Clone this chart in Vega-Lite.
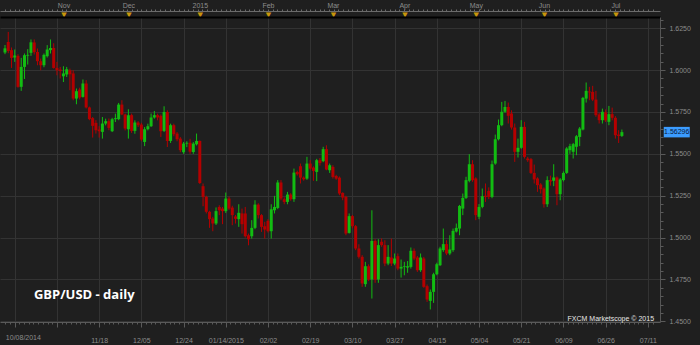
{
  "$schema": "https://vega.github.io/schema/vega-lite/v6.json",
  "width": 660,
  "height": 305,
  "autosize": "none",
  "padding": {"left": 0, "top": 17, "right": 40, "bottom": 23},
  "background": "#1f1f1f",
  "config": {
    "view": {"stroke": null},
    "axis": {"labelFont": "Liberation Sans", "labelFontSize": 7, "labelColor": "#8c8c8c", "domainColor": "#555555", "tickColor": "#555555", "gridColor": "#333333", "labelOverlap": false, "labelBound": false}
  },
  "datasets": {
    "candles": [
      {"t":0,"o":1.6105,"h":1.6150,"l":1.6095,"c":1.6130},
      {"t":1,"o":1.6168,"h":1.6228,"l":1.6101,"c":1.6114},
      {"t":2,"o":1.6119,"h":1.6135,"l":1.6013,"c":1.6073},
      {"t":3,"o":1.6075,"h":1.6123,"l":1.6049,"c":1.6087},
      {"t":4,"o":1.6085,"h":1.6095,"l":1.5895,"c":1.5900},
      {"t":5,"o":1.5900,"h":1.6073,"l":1.5876,"c":1.6019},
      {"t":6,"o":1.6019,"h":1.6099,"l":1.5947,"c":1.6089},
      {"t":7,"o":1.6086,"h":1.6125,"l":1.6033,"c":1.6091},
      {"t":8,"o":1.6103,"h":1.6183,"l":1.6085,"c":1.6166},
      {"t":9,"o":1.6165,"h":1.6183,"l":1.6093,"c":1.6107},
      {"t":10,"o":1.6108,"h":1.6129,"l":1.6029,"c":1.6053},
      {"t":11,"o":1.6053,"h":1.6069,"l":1.5999,"c":1.6029},
      {"t":12,"o":1.6029,"h":1.6099,"l":1.6017,"c":1.6091},
      {"t":13,"o":1.6083,"h":1.6149,"l":1.6075,"c":1.6123},
      {"t":14,"o":1.6119,"h":1.6183,"l":1.6099,"c":1.6132},
      {"t":15,"o":1.6132,"h":1.6160,"l":1.6009,"c":1.6013},
      {"t":16,"o":1.6013,"h":1.6049,"l":1.5969,"c":1.5999},
      {"t":17,"o":1.6003,"h":1.6019,"l":1.5950,"c":1.5995},
      {"t":18,"o":1.5963,"h":1.6023,"l":1.5929,"c":1.5980},
      {"t":19,"o":1.5974,"h":1.6019,"l":1.5959,"c":1.6005},
      {"t":20,"o":1.5999,"h":1.6009,"l":1.5880,"c":1.5975},
      {"t":21,"o":1.5980,"h":1.5999,"l":1.5820,"c":1.5830},
      {"t":22,"o":1.5830,"h":1.5890,"l":1.5796,"c":1.5874},
      {"t":23,"o":1.5884,"h":1.5895,"l":1.5825,"c":1.5836},
      {"t":24,"o":1.5840,"h":1.5944,"l":1.5836,"c":1.5920},
      {"t":25,"o":1.5920,"h":1.5940,"l":1.5771,"c":1.5777},
      {"t":26,"o":1.5777,"h":1.5782,"l":1.5701,"c":1.5707},
      {"t":27,"o":1.5713,"h":1.5720,"l":1.5597,"c":1.5667},
      {"t":28,"o":1.5685,"h":1.5701,"l":1.5621,"c":1.5641},
      {"t":29,"o":1.5645,"h":1.5665,"l":1.5597,"c":1.5635},
      {"t":30,"o":1.5631,"h":1.5720,"l":1.5591,"c":1.5681},
      {"t":31,"o":1.5681,"h":1.5710,"l":1.5670,"c":1.5695},
      {"t":32,"o":1.5695,"h":1.5711,"l":1.5641,"c":1.5655},
      {"t":33,"o":1.5635,"h":1.5715,"l":1.5630,"c":1.5707},
      {"t":34,"o":1.5707,"h":1.5740,"l":1.5690,"c":1.5713},
      {"t":35,"o":1.5707,"h":1.5804,"l":1.5701,"c":1.5794},
      {"t":36,"o":1.5794,"h":1.5820,"l":1.5731,"c":1.5735},
      {"t":37,"o":1.5735,"h":1.5740,"l":1.5640,"c":1.5651},
      {"t":38,"o":1.5647,"h":1.5766,"l":1.5591,"c":1.5731},
      {"t":39,"o":1.5731,"h":1.5740,"l":1.5625,"c":1.5637},
      {"t":40,"o":1.5637,"h":1.5700,"l":1.5620,"c":1.5687},
      {"t":41,"o":1.5687,"h":1.5695,"l":1.5660,"c":1.5671},
      {"t":42,"o":1.5675,"h":1.5685,"l":1.5575,"c":1.5585},
      {"t":43,"o":1.5571,"h":1.5660,"l":1.5546,"c":1.5647},
      {"t":44,"o":1.5647,"h":1.5680,"l":1.5640,"c":1.5665},
      {"t":45,"o":1.5665,"h":1.5741,"l":1.5660,"c":1.5717},
      {"t":46,"o":1.5717,"h":1.5756,"l":1.5710,"c":1.5731},
      {"t":47,"o":1.5731,"h":1.5740,"l":1.5700,"c":1.5717},
      {"t":48,"o":1.5727,"h":1.5735,"l":1.5601,"c":1.5635},
      {"t":49,"o":1.5637,"h":1.5784,"l":1.5630,"c":1.5750},
      {"t":50,"o":1.5750,"h":1.5760,"l":1.5541,"c":1.5577},
      {"t":51,"o":1.5577,"h":1.5680,"l":1.5565,"c":1.5671},
      {"t":52,"o":1.5671,"h":1.5680,"l":1.5605,"c":1.5617},
      {"t":53,"o":1.5621,"h":1.5630,"l":1.5575,"c":1.5587},
      {"t":54,"o":1.5591,"h":1.5600,"l":1.5510,"c":1.5522},
      {"t":55,"o":1.5510,"h":1.5571,"l":1.5500,"c":1.5561},
      {"t":56,"o":1.5561,"h":1.5575,"l":1.5540,"c":1.5566},
      {"t":57,"o":1.5566,"h":1.5590,"l":1.5500,"c":1.5513},
      {"t":58,"o":1.5511,"h":1.5570,"l":1.5500,"c":1.5561},
      {"t":59,"o":1.5557,"h":1.5621,"l":1.5550,"c":1.5577},
      {"t":60,"o":1.5577,"h":1.5580,"l":1.5320,"c":1.5326},
      {"t":61,"o":1.5307,"h":1.5323,"l":1.5187,"c":1.5243},
      {"t":62,"o":1.5243,"h":1.5250,"l":1.5144,"c":1.5154},
      {"t":63,"o":1.5154,"h":1.5160,"l":1.5058,"c":1.5110},
      {"t":64,"o":1.5114,"h":1.5124,"l":1.5038,"c":1.5084},
      {"t":65,"o":1.5084,"h":1.5180,"l":1.5075,"c":1.5158},
      {"t":66,"o":1.5183,"h":1.5193,"l":1.5134,"c":1.5163},
      {"t":67,"o":1.5173,"h":1.5183,"l":1.5080,"c":1.5158},
      {"t":68,"o":1.5158,"h":1.5269,"l":1.5147,"c":1.5233},
      {"t":69,"o":1.5233,"h":1.5245,"l":1.5165,"c":1.5173},
      {"t":70,"o":1.5179,"h":1.5190,"l":1.5074,"c":1.5134},
      {"t":71,"o":1.5126,"h":1.5135,"l":1.5084,"c":1.5112},
      {"t":72,"o":1.5110,"h":1.5199,"l":1.5064,"c":1.5148},
      {"t":73,"o":1.5144,"h":1.5173,"l":1.5024,"c":1.5080},
      {"t":74,"o":1.5144,"h":1.5183,"l":1.5000,"c":1.5008},
      {"t":75,"o":1.5014,"h":1.5024,"l":1.4954,"c":1.4990},
      {"t":76,"o":1.5008,"h":1.5104,"l":1.4994,"c":1.5058},
      {"t":77,"o":1.5058,"h":1.5223,"l":1.5050,"c":1.5197},
      {"t":78,"o":1.5197,"h":1.5205,"l":1.5114,"c":1.5134},
      {"t":79,"o":1.5134,"h":1.5140,"l":1.5034,"c":1.5064},
      {"t":80,"o":1.5068,"h":1.5094,"l":1.4994,"c":1.5048},
      {"t":81,"o":1.5100,"h":1.5110,"l":1.5030,"c":1.5038},
      {"t":82,"o":1.5038,"h":1.5199,"l":1.4994,"c":1.5169},
      {"t":83,"o":1.5163,"h":1.5249,"l":1.5144,"c":1.5183},
      {"t":84,"o":1.5177,"h":1.5343,"l":1.5170,"c":1.5329},
      {"t":85,"o":1.5329,"h":1.5343,"l":1.5223,"c":1.5233},
      {"t":86,"o":1.5229,"h":1.5240,"l":1.5199,"c":1.5213},
      {"t":87,"o":1.5213,"h":1.5273,"l":1.5199,"c":1.5257},
      {"t":88,"o":1.5257,"h":1.5265,"l":1.5220,"c":1.5229},
      {"t":89,"o":1.5229,"h":1.5412,"l":1.5213,"c":1.5388},
      {"t":90,"o":1.5392,"h":1.5400,"l":1.5370,"c":1.5378},
      {"t":91,"o":1.5426,"h":1.5442,"l":1.5323,"c":1.5358},
      {"t":92,"o":1.5358,"h":1.5365,"l":1.5340,"c":1.5348},
      {"t":93,"o":1.5352,"h":1.5482,"l":1.5345,"c":1.5442},
      {"t":94,"o":1.5442,"h":1.5462,"l":1.5405,"c":1.5412},
      {"t":95,"o":1.5418,"h":1.5425,"l":1.5339,"c":1.5398},
      {"t":96,"o":1.5392,"h":1.5470,"l":1.5337,"c":1.5462},
      {"t":97,"o":1.5462,"h":1.5475,"l":1.5430,"c":1.5445},
      {"t":98,"o":1.5456,"h":1.5542,"l":1.5450,"c":1.5528},
      {"t":99,"o":1.5528,"h":1.5551,"l":1.5402,"c":1.5406},
      {"t":100,"o":1.5402,"h":1.5442,"l":1.5386,"c":1.5432},
      {"t":101,"o":1.5422,"h":1.5432,"l":1.5352,"c":1.5362},
      {"t":102,"o":1.5368,"h":1.5375,"l":1.5345,"c":1.5352},
      {"t":103,"o":1.5358,"h":1.5365,"l":1.5253,"c":1.5263},
      {"t":104,"o":1.5267,"h":1.5270,"l":1.5223,"c":1.5239},
      {"t":105,"o":1.5243,"h":1.5250,"l":1.5014,"c":1.5024},
      {"t":106,"o":1.5028,"h":1.5144,"l":1.5024,"c":1.5128},
      {"t":107,"o":1.5128,"h":1.5135,"l":1.5055,"c":1.5068},
      {"t":108,"o":1.5068,"h":1.5075,"l":1.4925,"c":1.4935},
      {"t":109,"o":1.4935,"h":1.4960,"l":1.4875,"c":1.4885},
      {"t":110,"o":1.4885,"h":1.4895,"l":1.4706,"c":1.4726},
      {"t":111,"o":1.4722,"h":1.4855,"l":1.4706,"c":1.4829},
      {"t":112,"o":1.4829,"h":1.4840,"l":1.4740,"c":1.4750},
      {"t":113,"o":1.4750,"h":1.5163,"l":1.4636,"c":1.4980},
      {"t":114,"o":1.4980,"h":1.4990,"l":1.4730,"c":1.4750},
      {"t":115,"o":1.4750,"h":1.4990,"l":1.4730,"c":1.4955},
      {"t":116,"o":1.4975,"h":1.4995,"l":1.4945,"c":1.4955},
      {"t":117,"o":1.4955,"h":1.4984,"l":1.4829,"c":1.4845},
      {"t":118,"o":1.4845,"h":1.4955,"l":1.4835,"c":1.4885},
      {"t":119,"o":1.4881,"h":1.4994,"l":1.4830,"c":1.4845},
      {"t":120,"o":1.4845,"h":1.4905,"l":1.4835,"c":1.4875},
      {"t":121,"o":1.4889,"h":1.4905,"l":1.4805,"c":1.4815},
      {"t":122,"o":1.4815,"h":1.4869,"l":1.4761,"c":1.4825},
      {"t":123,"o":1.4825,"h":1.4855,"l":1.4775,"c":1.4829},
      {"t":124,"o":1.4821,"h":1.4860,"l":1.4790,"c":1.4829},
      {"t":125,"o":1.4825,"h":1.4941,"l":1.4815,"c":1.4921},
      {"t":126,"o":1.4921,"h":1.4935,"l":1.4865,"c":1.4875},
      {"t":127,"o":1.4881,"h":1.4890,"l":1.4795,"c":1.4805},
      {"t":128,"o":1.4805,"h":1.4905,"l":1.4795,"c":1.4881},
      {"t":129,"o":1.4875,"h":1.4885,"l":1.4700,"c":1.4706},
      {"t":130,"o":1.4710,"h":1.4720,"l":1.4616,"c":1.4630},
      {"t":131,"o":1.4622,"h":1.4690,"l":1.4571,"c":1.4676},
      {"t":132,"o":1.4676,"h":1.4790,"l":1.4610,"c":1.4781},
      {"t":133,"o":1.4781,"h":1.4850,"l":1.4775,"c":1.4841},
      {"t":134,"o":1.4835,"h":1.4945,"l":1.4830,"c":1.4935},
      {"t":135,"o":1.4925,"h":1.5054,"l":1.4915,"c":1.4961},
      {"t":136,"o":1.4961,"h":1.4984,"l":1.4895,"c":1.4905},
      {"t":137,"o":1.4905,"h":1.5014,"l":1.4895,"c":1.4929},
      {"t":138,"o":1.4925,"h":1.5054,"l":1.4915,"c":1.5040},
      {"t":139,"o":1.5036,"h":1.5084,"l":1.5030,"c":1.5058},
      {"t":140,"o":1.5054,"h":1.5195,"l":1.5014,"c":1.5189},
      {"t":141,"o":1.5173,"h":1.5263,"l":1.5134,"c":1.5237},
      {"t":142,"o":1.5237,"h":1.5363,"l":1.5230,"c":1.5343},
      {"t":143,"o":1.5339,"h":1.5498,"l":1.5330,"c":1.5438},
      {"t":144,"o":1.5438,"h":1.5462,"l":1.5333,"c":1.5343},
      {"t":145,"o":1.5353,"h":1.5360,"l":1.5104,"c":1.5134},
      {"t":146,"o":1.5124,"h":1.5200,"l":1.5110,"c":1.5183},
      {"t":147,"o":1.5183,"h":1.5293,"l":1.5175,"c":1.5247},
      {"t":148,"o":1.5250,"h":1.5323,"l":1.5213,"c":1.5243},
      {"t":149,"o":1.5279,"h":1.5300,"l":1.5230,"c":1.5243},
      {"t":150,"o":1.5243,"h":1.5460,"l":1.5235,"c":1.5438},
      {"t":151,"o":1.5442,"h":1.5615,"l":1.5435,"c":1.5587},
      {"t":152,"o":1.5587,"h":1.5705,"l":1.5580,"c":1.5671},
      {"t":153,"o":1.5671,"h":1.5810,"l":1.5665,"c":1.5751},
      {"t":154,"o":1.5751,"h":1.5816,"l":1.5745,"c":1.5780},
      {"t":155,"o":1.5780,"h":1.5806,"l":1.5681,"c":1.5727},
      {"t":156,"o":1.5741,"h":1.5760,"l":1.5645,"c":1.5657},
      {"t":157,"o":1.5657,"h":1.5681,"l":1.5452,"c":1.5512},
      {"t":158,"o":1.5512,"h":1.5591,"l":1.5478,"c":1.5536},
      {"t":159,"o":1.5536,"h":1.5701,"l":1.5530,"c":1.5661},
      {"t":160,"o":1.5661,"h":1.5691,"l":1.5472,"c":1.5482},
      {"t":161,"o":1.5472,"h":1.5482,"l":1.5452,"c":1.5462},
      {"t":162,"o":1.5468,"h":1.5475,"l":1.5380,"c":1.5386},
      {"t":163,"o":1.5386,"h":1.5436,"l":1.5323,"c":1.5347},
      {"t":164,"o":1.5353,"h":1.5360,"l":1.5273,"c":1.5313},
      {"t":165,"o":1.5317,"h":1.5325,"l":1.5263,"c":1.5289},
      {"t":166,"o":1.5293,"h":1.5300,"l":1.5179,"c":1.5199},
      {"t":167,"o":1.5199,"h":1.5366,"l":1.5183,"c":1.5343},
      {"t":168,"o":1.5343,"h":1.5370,"l":1.5310,"c":1.5335},
      {"t":169,"o":1.5339,"h":1.5438,"l":1.5307,"c":1.5359},
      {"t":170,"o":1.5359,"h":1.5365,"l":1.5193,"c":1.5259},
      {"t":171,"o":1.5259,"h":1.5355,"l":1.5223,"c":1.5347},
      {"t":172,"o":1.5343,"h":1.5395,"l":1.5335,"c":1.5386},
      {"t":173,"o":1.5386,"h":1.5540,"l":1.5380,"c":1.5532},
      {"t":174,"o":1.5522,"h":1.5560,"l":1.5500,"c":1.5546},
      {"t":175,"o":1.5512,"h":1.5565,"l":1.5472,"c":1.5558},
      {"t":176,"o":1.5542,"h":1.5612,"l":1.5492,"c":1.5605},
      {"t":177,"o":1.5601,"h":1.5660,"l":1.5546,"c":1.5651},
      {"t":178,"o":1.5645,"h":1.5840,"l":1.5640,"c":1.5834},
      {"t":179,"o":1.5830,"h":1.5926,"l":1.5806,"c":1.5876},
      {"t":180,"o":1.5872,"h":1.5900,"l":1.5820,"c":1.5867},
      {"t":181,"o":1.5870,"h":1.5906,"l":1.5815,"c":1.5824},
      {"t":182,"o":1.5824,"h":1.5876,"l":1.5721,"c":1.5731},
      {"t":183,"o":1.5735,"h":1.5745,"l":1.5681,"c":1.5701},
      {"t":184,"o":1.5701,"h":1.5770,"l":1.5681,"c":1.5751},
      {"t":185,"o":1.5748,"h":1.5765,"l":1.5690,"c":1.5700},
      {"t":186,"o":1.5691,"h":1.5786,"l":1.5671,"c":1.5737},
      {"t":187,"o":1.5737,"h":1.5776,"l":1.5700,"c":1.5715},
      {"t":188,"o":1.5715,"h":1.5725,"l":1.5591,"c":1.5611},
      {"t":189,"o":1.5615,"h":1.5641,"l":1.5565,"c":1.5607},
      {"t":190,"o":1.5607,"h":1.5645,"l":1.5601,"c":1.56296}
    ]
  },
  "resolve": {"axis": {"x": "independent", "y": "independent"}},
  "layer": [
    {
      "data": {"name": "candles"},
      "mark": {"type": "rule", "strokeWidth": 1},
      "encoding": {
        "x": {
          "field": "t", "type": "quantitative",
          "scale": {"domain": [0, 200.2], "nice": false, "zero": false},
          "axis": {
            "orient": "bottom", "title": null,
            "values": {"expr": "sequence(3 - 26/9, 200.2, 13/9)"},
            "labelExpr": "datum.value < 1 ? '10/08/2014' : ((abs((datum.value-3)/13 - round((datum.value-3)/13)) < 0.01 && datum.value > 20) ? ['11/18','12/05','12/24','01/14/2015','02/02','02/19','03/10','03/27','04/15','05/04','05/21','06/09','06/26','07/11'][round((datum.value-29)/13)] : '')",
            "labelAlign": {"condition": {"test": "datum.value < 1", "value": "left"}, "value": "center"},
            "tickSize": {"condition": {"test": "abs((datum.value-3)/13 - round((datum.value-3)/13)) < 0.01", "value": 5}, "value": 2},
            "grid": true,
            "gridOpacity": {"condition": {"test": "datum.value > 1 && abs((datum.value-3)/13 - round((datum.value-3)/13)) < 0.01", "value": 1}, "value": 0},
            "labelPadding": 9,
            "domainColor": "#5a5a5a", "tickColor": "#5a5a5a"
          }
        },
        "y": {
          "field": "l", "type": "quantitative",
          "scale": {"domain": [1.4496, 1.6317], "nice": false, "zero": false},
          "axis": {
            "orient": "right", "title": null,
            "values": [1.45, 1.475, 1.5, 1.525, 1.55, 1.575, 1.6, 1.625],
            "format": ".4f",
            "tickSize": 5,
            "grid": true,
            "labelPadding": 4,
            "domainColor": "#555555", "tickColor": "#5a5a5a"
          }
        },
        "y2": {"field": "h"},
        "color": {"condition": {"test": "datum.c >= datum.o", "value": "#12bc12"}, "value": "#b40000"}
      }
    },
    {
      "data": {"name": "candles"},
      "mark": {"type": "bar", "width": 3},
      "encoding": {
        "x": {
          "field": "t", "type": "quantitative",
          "axis": {
            "orient": "top", "offset": 6, "title": null,
            "values": {"expr": "sequence(3 - 26/9, 200.2, 13/9)"},
            "labels": false, "grid": false, "tickSize": 2,
            "domainColor": "#6a6a6a", "tickColor": "#6a6a6a"
          }
        },
        "y": {
          "field": "o", "type": "quantitative",
          "axis": {
            "orient": "right", "title": null,
            "values": [1.455, 1.46, 1.465, 1.47, 1.48, 1.485, 1.49, 1.495, 1.505, 1.51, 1.515, 1.52, 1.53, 1.535, 1.54, 1.545, 1.555, 1.56, 1.565, 1.57, 1.58, 1.585, 1.59, 1.595, 1.605, 1.61, 1.615, 1.62, 1.63],
            "labels": false, "grid": false, "domain": false, "tickSize": 3, "tickColor": "#5a5a5a"
          }
        },
        "y2": {"field": "c"},
        "color": {"condition": {"test": "datum.c >= datum.o", "value": "#12bc12"}, "value": "#b40000"}
      }
    },
    {
      "data": {"values": [{"label": "GBP/USD - daily"}]},
      "mark": {"type": "text", "align": "left", "baseline": "alphabetic", "font": "Open Sans", "fontSize": 13, "fontWeight": "bold", "color": "#ffffff"},
      "encoding": {
        "x": {
          "datum": 8.9, "type": "quantitative",
          "axis": {
            "orient": "top", "offset": 0, "title": null,
            "values": [18, 38, 60, 81, 101, 123, 145, 166, 188],
            "labelExpr": "'▼'", "labelColor": "#c8960c", "labelFont": "DejaVu Sans", "labelFontSize": 7,
            "labelPadding": 0, "ticks": false, "grid": false,
            "domainColor": "#000000", "domainWidth": 2
          }
        },
        "y": {"datum": 1.4634, "type": "quantitative", "axis": null},
        "text": {"field": "label"}
      }
    },
    {
      "data": {"values": [{"label": "FXCM Marketscope © 2015"}]},
      "mark": {"type": "text", "align": "right", "baseline": "alphabetic", "font": "Liberation Sans", "fontSize": 7, "color": "#e8e8e8"},
      "encoding": {
        "x": {
          "datum": 199.9, "type": "quantitative",
          "axis": {
            "orient": "top", "offset": 10, "title": null,
            "values": [18, 38, 60, 81, 101, 123, 145, 166, 188],
            "labelExpr": "['Nov','Dec','2015','Feb','Mar','Apr','May','Jun','Jul'][indexof([18,38,60,81,101,123,145,166,188], datum.value)]",
            "labelBaseline": "alphabetic", "labelPadding": 0,
            "ticks": false, "domain": false, "grid": false
          }
        },
        "y": {"datum": 1.4503, "type": "quantitative", "axis": null},
        "text": {"field": "label"}
      }
    },
    {
      "data": {"values": [{"p": 1.56296, "label": "1.56296"}]},
      "encoding": {
        "x": {"datum": 206.9, "type": "quantitative", "axis": null},
        "y": {"field": "p", "type": "quantitative", "axis": null}
      },
      "layer": [
        {"mark": {"type": "point", "shape": "M-1,-0.404H1V0.404H-1Z", "size": 676, "filled": true, "color": "#3b9cff", "opacity": 1, "strokeWidth": 0}},
        {"mark": {"type": "text", "align": "center", "baseline": "middle", "font": "Liberation Sans", "fontSize": 7, "color": "#0a1a3a"}, "encoding": {"text": {"field": "label"}}}
      ]
    }
  ]
}
